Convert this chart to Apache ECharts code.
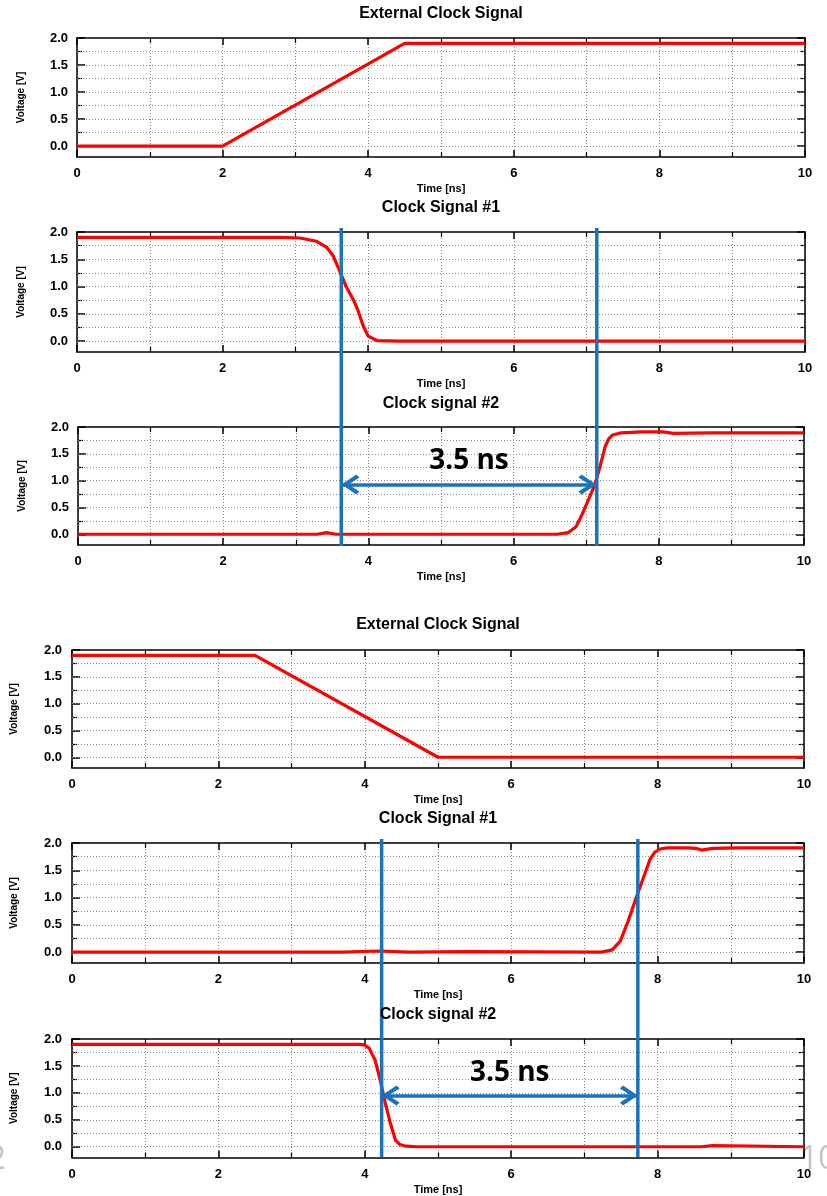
<!DOCTYPE html>
<html><head><meta charset="utf-8">
<script src="https://cdn.jsdelivr.net/npm/echarts@6/dist/echarts.min.js"></script>
<style>html,body{margin:0;padding:0;background:#fff}#c{width:827px;height:1196px}</style>
</head><body><div id="c"></div>
<script>
// ---------------- data ----------------
const titles = ['External Clock Signal', 'Clock Signal #1', 'Clock signal #2',
                'External Clock Signal', 'Clock Signal #1', 'Clock signal #2'];
const xName = 'Time [ns]';
const yName = 'Voltage [V]';
const yMajor = [0, 0.5, 1, 1.5, 2];
const yMinor = [0.25, 0.75, 1.25, 1.75];
const yGrid = [0, 0.25, 0.5, 0.75, 1, 1.25, 1.5, 1.75];

const extRise = [[0, 0], [2, 0], [4.5, 1.9], [10, 1.9]];
const clk1Fall = [[0, 1.9], [2.8, 1.9], [3.06, 1.89], [3.29, 1.83], [3.43, 1.72], [3.52, 1.56],
  [3.61, 1.28], [3.70, 0.99], [3.80, 0.75], [3.86, 0.56], [3.93, 0.28], [4.0, 0.09],
  [4.12, 0.01], [4.44, 0], [10, 0]];
const clk2Rise = [[0, 0], [3.3, 0], [3.42, 0.03], [3.55, 0], [6.6, 0], [6.75, 0.03], [6.86, 0.14],
  [6.93, 0.33], [7.03, 0.64], [7.12, 0.93], [7.19, 1.26], [7.26, 1.63], [7.31, 1.78], [7.36, 1.85],
  [7.48, 1.89], [7.77, 1.91], [8.06, 1.91], [8.2, 1.88], [8.71, 1.89], [10, 1.89]];
const extFall = [[0, 1.9], [2.5, 1.9], [5, 0], [10, 0]];
const clk1Rise = [[0, 0], [3.7, 0], [3.72, 0.02], [4.2, 0.02], [4.22, 0], [4.6, 0], [4.62, 0.01],
  [5.4, 0.01], [5.42, 0], [7.23, 0], [7.38, 0.04], [7.49, 0.2], [7.59, 0.54], [7.70, 0.97],
  [7.80, 1.34], [7.90, 1.71], [7.96, 1.83], [8.03, 1.89], [8.13, 1.91], [8.39, 1.91], [8.53, 1.9],
  [8.6, 1.87], [8.75, 1.9], [9.11, 1.91], [10, 1.91]];
const clk2Fall = [[0, 1.9], [3.92, 1.9], [3.99, 1.89], [4.06, 1.83], [4.14, 1.61], [4.21, 1.24],
  [4.28, 0.81], [4.35, 0.43], [4.42, 0.12], [4.48, 0.04], [4.56, 0.01], [4.71, 0], [8.6, 0], [8.62, 0.02],
  [8.75, 0.02], [8.77, 0], [10, 0]];
const signals = [extRise, clk1Fall, clk2Rise, extFall, clk1Rise, clk2Fall];

const markerA = [3.63, 7.14];   // vertical markers, top figure (ns)
const markerB = [4.23, 7.73];   // vertical markers, bottom figure (ns)
const arrowLevel = [0.93, 0.95]; // arrow height (V)
const arrowLabel = '3.5 ns';

// ---------------- layout / style ----------------
const FONT = '"Liberation Sans", Arial, sans-serif';
const RED = '#ff0000', BLUE = '#1a73bd';
const layout = [
  {left: 77, top: 38, width: 728, height: 119, gap: 51, ty: 14},
  {left: 77, top: 232, width: 728, height: 120, gap: 51, ty: 208},
  {left: 78, top: 427, width: 726, height: 118, gap: 51, ty: 404},
  {left: 72, top: 650, width: 732, height: 118, gap: 53, ty: 625},
  {left: 72, top: 843, width: 732, height: 120, gap: 53, ty: 819},
  {left: 72, top: 1039, width: 732, height: 119, gap: 53, ty: 1015}
];
const overlay = [
  {left: 77, top: 228, width: 728, height: 318},
  {left: 72, top: 839, width: 732, height: 318}
];
const GRIDLINE = {color: '#8a8a8a', type: [1, 2], width: 1};
const AXLINE = {color: '#000', width: 1.5};
const chevron = 'path://M5,0 L10,7.4 L8.5,9 L5,3.4 L1.5,9 L0,7.4 Z';
const HEAD_W = 20, HEAD_D = 18;

const grids = [], xAxes = [], yAxes = [], series = [], graphics = [];

layout.forEach((L, i) => {
  grids.push({left: L.left, top: L.top, width: L.width, height: L.height, containLabel: false});
  const xc = {gridIndex: i, type: 'value', min: 0, max: 10, interval: 2,
    axisLine: {show: true, onZero: false, lineStyle: AXLINE},
    axisTick: {show: true, inside: true, length: 7, lineStyle: {color: '#000', width: 1.5}},
    minorTick: {show: true, splitNumber: 2, length: 5, lineStyle: {color: '#000', width: 1.2}}};
  xAxes.push(Object.assign({}, xc, {position: 'bottom',
    splitLine: {show: true, lineStyle: GRIDLINE},
    minorSplitLine: {show: true, lineStyle: GRIDLINE},
    axisLabel: {show: true, margin: 10, color: '#000', fontFamily: FONT, fontWeight: 'bold', fontSize: 13},
    name: xName, nameLocation: 'middle', nameGap: 26.5,
    nameTextStyle: {color: '#000', fontFamily: FONT, fontWeight: 'bold', fontSize: 11}}));
  xAxes.push(Object.assign({}, xc, {position: 'top',
    splitLine: {show: false}, minorSplitLine: {show: false}, axisLabel: {show: false}}));

  const yc = {gridIndex: i, type: 'value', min: -0.2, max: 2, splitLine: {show: false},
    axisLine: {show: true, onZero: false, lineStyle: AXLINE}};
  const noLine = {show: false, onZero: false};
  yAxes.push(Object.assign({}, yc, {position: 'left',
    axisTick: {show: true, inside: true, length: 8, customValues: yMajor, lineStyle: {color: '#000', width: 1.5}},
    axisLabel: {show: true, customValues: yMajor, formatter: v => Number(v).toFixed(1), margin: i < 3 ? 9 : 10,
      color: '#000', fontFamily: FONT, fontWeight: 'bold', fontSize: 13},
    name: yName, nameLocation: 'middle', nameGap: L.gap, nameRotate: 90,
    nameTextStyle: {color: '#000', fontFamily: FONT, fontWeight: 'bold', fontSize: 10}}));
  yAxes.push(Object.assign({}, yc, {position: 'left', axisLine: noLine,
    axisTick: {show: true, inside: true, length: 5, customValues: yMinor, lineStyle: {color: '#000', width: 1.2}},
    axisLabel: {show: false}}));
  yAxes.push(Object.assign({}, yc, {position: 'right',
    axisTick: {show: true, inside: true, length: 8, customValues: yMajor, lineStyle: {color: '#000', width: 1.5}},
    axisLabel: {show: false}}));
  yAxes.push(Object.assign({}, yc, {position: 'right', axisLine: noLine,
    axisTick: {show: true, inside: true, length: 5, customValues: yMinor, lineStyle: {color: '#000', width: 1.2}},
    axisLabel: {show: false}}));

  series.push({type: 'line', xAxisIndex: 2 * i, yAxisIndex: 4 * i, data: signals[i],
    showSymbol: false, symbol: 'none', animation: false, z: 3,
    lineStyle: {color: RED, width: 3.2},
    markLine: {silent: true, z: 1, symbol: ['none', 'none'], animation: false,
      label: {show: false}, lineStyle: GRIDLINE, emphasis: {disabled: true},
      data: yGrid.map(v => ({yAxis: v}))}});

  graphics.push({type: 'text', x: L.left + L.width / 2, y: L.ty, z: 10,
    style: {text: titles[i], align: 'center', verticalAlign: 'middle',
      font: 'bold 16px ' + FONT, fill: '#000'}});
});

// arrows with label in panels 3 and 6
[[2, markerA, arrowLevel[0]], [5, markerB, arrowLevel[1]]].forEach(([gi, m, lvl]) => {
  // shaft + label
  series.push({type: 'line', xAxisIndex: 2 * gi, yAxisIndex: 4 * gi, data: [],
    animation: false, z: 4,
    markLine: {silent: true, z: 6, animation: false, symbol: ['none', 'none'],
      lineStyle: {color: BLUE, width: 3.5, type: 'solid'},
      emphasis: {disabled: true},
      label: {show: true, position: 'middle', formatter: arrowLabel, distance: 9,
        color: '#000', fontFamily: '"Open Sans", "Noto Sans", sans-serif', fontWeight: 'bold', fontSize: 28},
      data: [[{coord: [m[0], lvl]}, {coord: [m[1], lvl]}]]}});
  // heads (left pointing, right pointing)
  series.push({type: 'scatter', xAxisIndex: 2 * gi, yAxisIndex: 4 * gi, animation: false, z: 7, silent: true,
    symbol: chevron, symbolSize: [HEAD_W, HEAD_D], symbolRotate: 90, symbolOffset: [HEAD_D / 2, 0],
    itemStyle: {color: BLUE, opacity: 1}, data: [[m[0], lvl]]});
  series.push({type: 'scatter', xAxisIndex: 2 * gi, yAxisIndex: 4 * gi, animation: false, z: 7, silent: true,
    symbol: chevron, symbolSize: [HEAD_W, HEAD_D], symbolRotate: -90, symbolOffset: [-HEAD_D / 2, 0],
    itemStyle: {color: BLUE, opacity: 1}, data: [[m[1], lvl]]});
});

// overlay grids for the vertical marker lines spanning two panels
overlay.forEach((O, k) => {
  const gi = layout.length + k;
  grids.push({left: O.left, top: O.top, width: O.width, height: O.height});
  xAxes.push({gridIndex: gi, type: 'value', min: 0, max: 10, show: false});
  yAxes.push({gridIndex: gi, type: 'value', min: 0, max: 1, show: false});
  const m = k === 0 ? markerA : markerB;
  m.forEach(x => {
    series.push({type: 'line', xAxisIndex: xAxes.length - 1, yAxisIndex: yAxes.length - 1,
      data: [[x, 0], [x, 1]], showSymbol: false, symbol: 'none', animation: false, z: 5,
      lineStyle: {color: BLUE, width: 3.5}});
  });
});

// slide-number remnants
graphics.unshift({type: 'text', x: 6, y: 1160, z: -1,
  style: {text: '2', align: 'right', verticalAlign: 'middle', font: '32px "Open Sans", sans-serif', fill: '#c4c4c4'}});
graphics.unshift({type: 'text', x: 800, y: 1160, z: -1,
  style: {text: '10', align: 'left', verticalAlign: 'middle', font: '32px "Open Sans", sans-serif', fill: '#c4c4c4'}});

const chart = echarts.init(document.getElementById('c'), null, {renderer: 'canvas'});
chart.setOption({
  backgroundColor: '#fff',
  animation: false,
  grid: grids,
  xAxis: xAxes,
  yAxis: yAxes,
  series: series,
  graphic: graphics
});
</script>
</body></html>
